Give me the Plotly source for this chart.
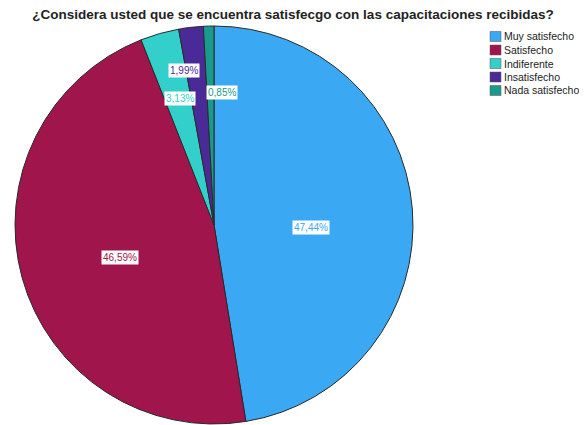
import math
import plotly.graph_objects as go

# Data
categories = ['Muy satisfecho', 'Satisfecho', 'Indiferente', 'Insatisfecho', 'Nada satisfecho']
percentages = [47.44, 46.59, 3.13, 1.99, 0.85]
pct_labels = ['47,44%', '46,59%', '3,13%', '1,99%', '0,85%']

colors = ['#3AA8F2', '#A0154C', '#33CFCB', '#4A2A96', '#1A9A8C']

# page body has an 8px margin, so the figure is kept inside the window
W, H = 571, 425
FONT = 'Liberation Sans, Arial'

# pie geometry in figure pixels
pcx, pcy, pr = 206, 217, 199

fig = go.Figure(go.Pie(
    labels=categories,
    values=percentages,
    sort=False,
    direction='clockwise',
    rotation=0,
    marker=dict(colors=colors, line=dict(color='#2a2a2a', width=1)),
    textinfo='none',
    textposition='none',
    hoverinfo='label+percent',
    showlegend=False,
    domain=dict(x=[(pcx - pr) / W, (pcx + pr) / W],
                y=[(H - pcy - pr) / H, (H - pcy + pr) / H]),
))

# percentage labels in white boxes, placed at each slice's mid angle
label_r = [0.49, 0.50, 0.66, 0.79, 0.665]
label_shift = [6, -4, 1, -4.4, 5]  # small angular nudges (degrees)
total = sum(percentages)
start = 0.0
for i, v in enumerate(percentages):
    mid = (start + v / 2) / total * 360 + label_shift[i]
    start += v
    dx = math.sin(math.radians(mid)) * pr * label_r[i]
    dy = math.cos(math.radians(mid)) * pr * label_r[i]
    fig.add_annotation(
        x=(pcx + dx) / W, y=(H - pcy + dy) / H, xref='paper', yref='paper',
        xanchor='center', yanchor='middle',
        text=pct_labels[i], showarrow=False,
        font=dict(family=FONT, size=10, color=colors[i]),
        bgcolor='white', borderpad=1,
    )

# compact legend drawn by hand (SPSS style spacing)
lx, ly0, step = 482, 28.5, 13.5
for i, name in enumerate(categories):
    yc = ly0 + i * step
    fig.add_shape(
        type='rect', xref='paper', yref='paper',
        x0=lx / W, x1=(lx + 11) / W,
        y0=(H - yc - 5) / H, y1=(H - yc + 5) / H,
        fillcolor=colors[i], line=dict(color='#555', width=0.5),
    )
    fig.add_annotation(
        x=(lx + 12) / W, y=(H - yc) / H, xref='paper', yref='paper',
        xanchor='left', yanchor='middle', text=name, showarrow=False,
        font=dict(family=FONT, size=10.5, color='#222'),
    )

fig.update_layout(
    title=dict(
        text='<b>¿Considera usted que se encuentra satisfecgo con las capacitaciones recibidas?</b>',
        x=285 / W, xanchor='center', y=1 - 6 / H, yanchor='middle',
        font=dict(family=FONT, size=13.5, color='#222'),
    ),
    margin=dict(l=0, r=0, t=0, b=0),
    width=W, height=H,
    paper_bgcolor='white',
)

fig.write_html('out.html')
